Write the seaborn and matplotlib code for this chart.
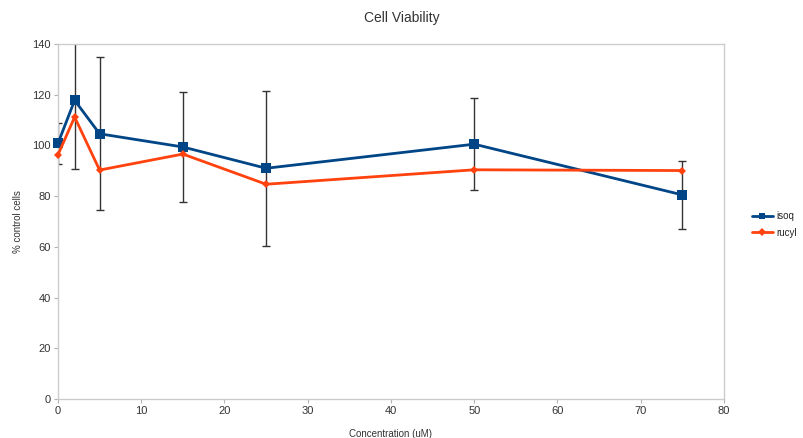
import matplotlib
matplotlib.use("Agg")
import matplotlib.pyplot as plt
from matplotlib.lines import Line2D
import seaborn as sns
import pandas as pd

# Cell viability (% of control) versus concentration
concentration = [0, 2, 5, 15, 25, 50, 75]
isoq = [100.8, 117.8, 104.6, 99.4, 91.0, 100.5, 80.5]
isoq_err = [8.2, 27.0, 30.2, 21.7, 30.5, 18.2, 13.4]
rucyl = [96.3, 111.2, 90.3, 96.6, 84.7, 90.4, 90.1]

series_names = ["isoq", "rucyl"]
colors = {"isoq": "#004586", "rucyl": "#ff420e"}
marker_sizes = {"isoq": 6.5, "rucyl": 4.5}

df = pd.DataFrame({
    "Concentration (uM)": concentration * 2,
    "% control cells": isoq + rucyl,
    "series": ["isoq"] * len(concentration) + ["rucyl"] * len(concentration),
})

sns.set_style("white")
plt.rcParams["font.family"] = ["Liberation Sans", "DejaVu Sans"]

fig = plt.figure(figsize=(8.04, 4.38), dpi=100)
ax = fig.add_axes([0.0721, 0.0890, 0.8284, 0.8105])

# error bars for isoq drawn beneath the lines
ax.errorbar(concentration, isoq, yerr=isoq_err, fmt="none", ecolor="#333333",
            elinewidth=1.0, capsize=3, capthick=1.0, zorder=1)

sns.lineplot(data=df, x="Concentration (uM)", y="% control cells", hue="series",
             style="series", markers={"isoq": "s", "rucyl": "D"}, dashes=False,
             palette=colors, linewidth=2.0, markersize=6, markeredgewidth=0,
             ax=ax, legend=False, zorder=3)

# per-series marker size; keep markers at the axis edge whole
data_lines = [ln for ln in ax.lines if len(ln.get_xdata()) == len(concentration)]
for ln, name in zip(data_lines[-2:], series_names):
    ln.set_markersize(marker_sizes[name])
    ln.set_clip_on(False)

ax.set_xlim(0, 80)
ax.set_ylim(0, 140)
ax.set_xticks(range(0, 81, 10))
ax.set_yticks(range(0, 141, 20))
ax.tick_params(axis="both", which="major", direction="out", length=3, width=0.8,
               color="#b3b3b3", labelsize=8, pad=2, labelcolor="#333333")
ax.tick_params(axis="both", bottom=True, left=True)
for sp in ax.spines.values():
    sp.set_color("#cccccc")
    sp.set_linewidth(1.0)

ax.set_xlabel("Concentration (uM)", fontsize=7, color="#333333")
ax.set_ylabel("% control cells", fontsize=7, color="#333333")
ax.xaxis.set_label_coords(0.5, -0.085)
ax.yaxis.set_label_coords(-0.053, 0.5)
fig.text(0.5, 0.958, "Cell Viability", ha="center", va="center", fontsize=10, color="#333333")

handles = [Line2D([], [], color=colors["isoq"], marker="s", markersize=5, lw=2, markeredgewidth=0),
           Line2D([], [], color=colors["rucyl"], marker="D", markersize=4, lw=2, markeredgewidth=0)]
fig.legend(handles, series_names, loc="center left", bbox_to_anchor=(0.935, 0.4875),
           frameon=False, fontsize=7, handlelength=2.2, handletextpad=0.3,
           labelspacing=0.65, borderaxespad=0, borderpad=0)

fig.savefig("out.png", dpi=100)
